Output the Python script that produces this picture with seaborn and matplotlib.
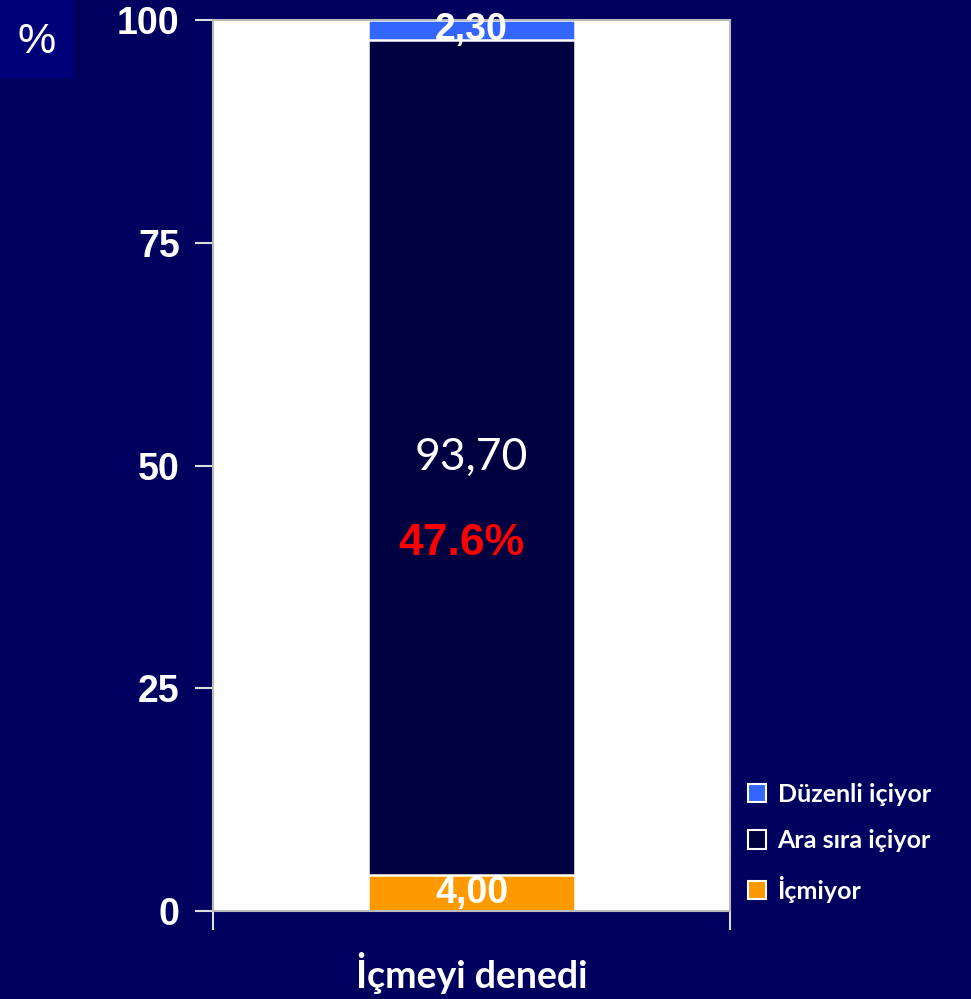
import matplotlib
matplotlib.use("Agg")
import matplotlib.pyplot as plt
import numpy as np
import pandas as pd
import seaborn as sns
from matplotlib.patches import Patch, Rectangle

# data
category = ["İçmeyi denedi"]
series = ["İçmiyor", "Ara sıra içiyor", "Düzenli içiyor"]
values = [4.00, 93.70, 2.30]
value_labels = ["4,00", "93,70", "2,30"]
colors = ["#FF9900", "#000040", "#3366FF"]
yticks = [0, 25, 50, 75, 100]
note = "47.6%"

bg = "#00005F"
sns.set_style("white")
plt.rcParams["font.family"] = ["Liberation Sans", "DejaVu Sans"]

fig = plt.figure(figsize=(9.71, 9.99), dpi=100, facecolor=bg)
fig.patches.append(Rectangle((0, 1 - 77 / 999), 72 / 971, 77 / 999,
                             transform=fig.transFigure, color="#000078", zorder=0))
fig.text(37 / 971, 1 - 42 / 999, "%", color="white", fontsize=31,
         ha="center", va="center", family="Liberation Sans")

ax = fig.add_axes([213 / 971, 1 - 911 / 999, 517 / 971, 891 / 999])
ax.set_facecolor("white")

# stacked bars: draw cumulative totals from top to bottom
tops = np.cumsum(values)
for i in reversed(range(len(values))):
    df = pd.DataFrame({"cat": category, "val": [tops[i]]})
    sns.barplot(data=df, x="cat", y="val", color=colors[i], width=0.4,
                edgecolor="white", linewidth=1.8, saturation=1, ax=ax)

# segment labels
bottoms = tops - np.array(values)
for i, lab in enumerate(value_labels):
    mid = (bottoms[i] + tops[i]) / 2
    if i == 1:
        ax.text(0, mid, lab, color="white", fontsize=32, ha="center", va="center",
                family=["Lato", "DejaVu Sans"])
    else:
        ax.text(0, mid, lab, color="white", fontsize=27, ha="center", va="center",
                fontweight="bold")
ax.text(-0.02, 41.3, note, color="#FF0000", fontsize=32, fontweight="bold",
        ha="center", va="center")

ax.set_xlim(-0.5, 0.5)
ax.set_ylim(0, 100)
ax.set_yticks(yticks)
ax.set_yticklabels([str(t) for t in yticks], color="white", fontsize=27,
                   fontweight="bold")
ax.set_xticks([-0.5, 0.5])
ax.set_xticklabels(["", ""])
ax.tick_params(axis="y", direction="out", length=13, width=1.5, color="#DDDDDD", pad=11, left=True)
ax.tick_params(axis="x", direction="out", length=14, width=1.5, color="#DDDDDD", bottom=True)
for s in ax.spines.values():
    s.set_color("#BBBBBB")
    s.set_linewidth(1.5)
ax.set_ylabel("")
ax.set_xlabel(category[0], color="white", fontsize=27, fontweight="bold",
              labelpad=12, family=["Lato", "DejaVu Sans"])

# legend
handles = [Patch(facecolor=colors[i], edgecolor="white", linewidth=1.5, label=series[i])
           for i in reversed(range(len(series)))]
leg = fig.legend(handles=handles, loc="upper left",
                 bbox_to_anchor=(725 / 971, 1 - 760 / 999), frameon=False,
                 handlelength=0.75, handleheight=0.75, handletextpad=0.45,
                 labelspacing=0.95, prop={"family": ["Lato", "DejaVu Sans"],
                                          "weight": "bold", "size": 18})
for t in leg.get_texts():
    t.set_color("white")

fig.savefig("out.png", dpi=100, facecolor=bg)
